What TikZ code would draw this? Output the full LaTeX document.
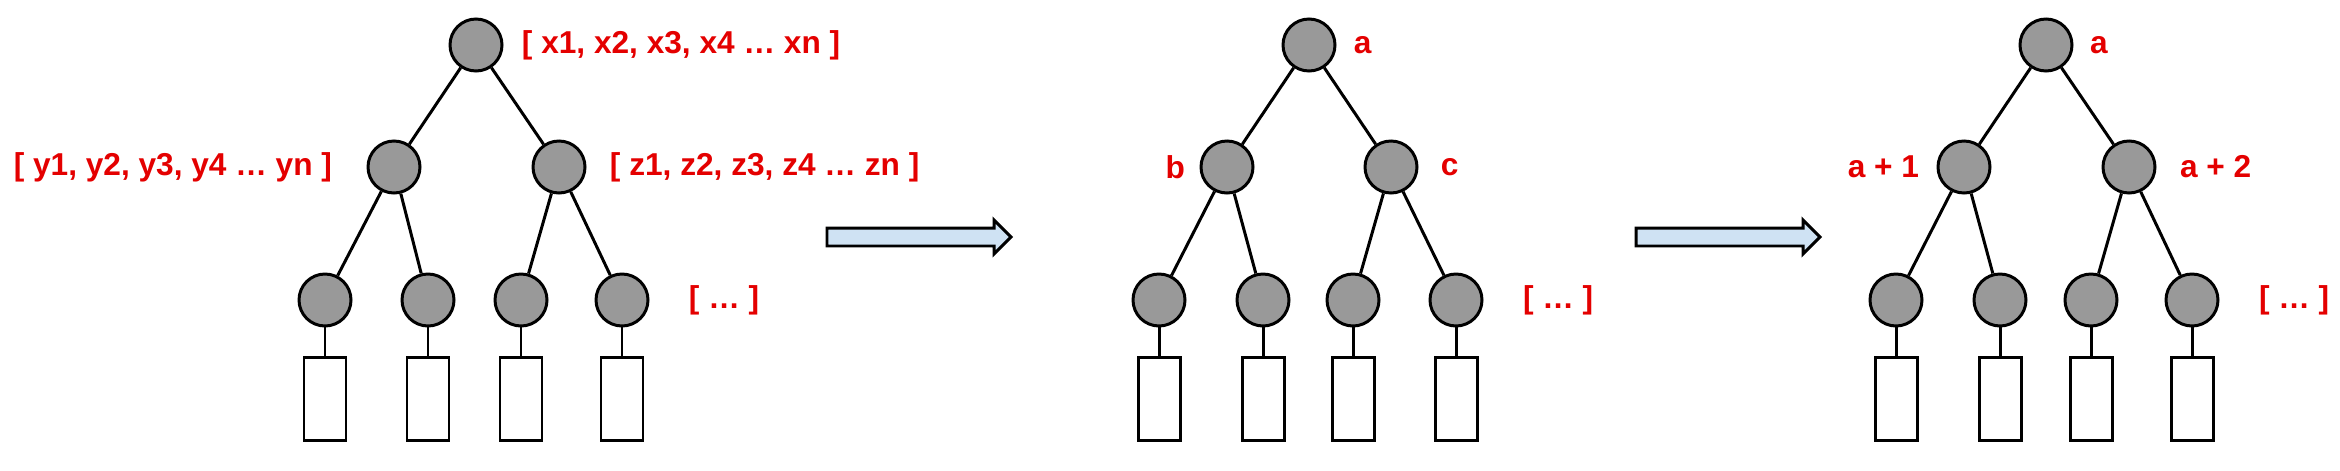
\documentclass[tikz,border=0pt]{standalone}
\usepackage{fontspec}
\setmainfont{Liberation Sans}
\usepackage{xcolor}
\usepackage{tikz}
\usetikzlibrary{shapes,arrows,positioning,calc}

\definecolor{nodegray}{RGB}{153,153,153}
\definecolor{labelred}{RGB}{228,0,0}
\definecolor{arrowblue}{RGB}{207,226,243}

\begin{document}
\begin{tikzpicture}[
    line width=0.85pt,
    vert/.style={circle, draw, fill=nodegray, minimum size=0.52cm, inner sep=0},
    leafbox/.style={rectangle, draw, fill=white, minimum width=0.42cm, minimum height=0.83cm, inner sep=0},
    lbl/.style={text=labelred, font=\bfseries\fontsize{9}{11}\selectfont, inner sep=0},
    bigarrow/.style={single arrow, draw, fill=arrowblue, inner xsep=0, inner ysep=0.075cm,
        single arrow head extend=0.08cm, minimum height=1.84cm}
]
    \useasboundingbox (0,0) rectangle (23.4,4.7);

    % Tree 1: lists of values
    \begin{scope}[xshift=4.76cm]
        \node[vert] (t1root) at (0,4.25) {};
        \node[vert] (t1left) at (-0.82,3.03) {};
        \node[vert] (t1right) at (0.83,3.03) {};
        \node[vert] (t1leafa) at (-1.51,1.70) {};
        \node[vert] (t1leafb) at (-0.48,1.70) {};
        \node[vert] (t1leafc) at (0.45,1.70) {};
        \node[vert] (t1leafd) at (1.46,1.70) {};
        \node[leafbox] (t1boxa) at (-1.51,0.71) {};
        \node[leafbox] (t1boxb) at (-0.48,0.71) {};
        \node[leafbox] (t1boxc) at (0.45,0.71) {};
        \node[leafbox] (t1boxd) at (1.46,0.71) {};
        \draw (t1root) -- (t1left) (t1root) -- (t1right);
        \draw (t1left) -- (t1leafa) (t1left) -- (t1leafb);
        \draw (t1right) -- (t1leafc) (t1right) -- (t1leafd);
        \draw (t1leafa) -- (t1boxa) (t1leafb) -- (t1boxb);
        \draw (t1leafc) -- (t1boxc) (t1leafd) -- (t1boxd);

        \node[lbl, right=0.17 of t1root] (t1xlist) {[ x1, x2, x3, x4 … xn ]};
        \node[lbl, left=0.33 of t1left] (t1ylist) {[ y1, y2, y3, y4 … yn ]};
        \node[lbl, right=0.22 of t1right] (t1zlist) {[ z1, z2, z3, z4 … zn ]};
        \node[lbl, right=0.38 of t1leafd] (t1more) {[ … ]};
    \end{scope}

    \node[bigarrow] (arr1) at (9.145,2.33) {};

    % Tree 2: one value per node
    \begin{scope}[xshift=13.09cm]
        \node[vert] (t2root) at (0,4.25) {};
        \node[vert] (t2left) at (-0.82,3.03) {};
        \node[vert] (t2right) at (0.82,3.03) {};
        \node[vert] (t2leafa) at (-1.50,1.70) {};
        \node[vert] (t2leafb) at (-0.46,1.70) {};
        \node[vert] (t2leafc) at (0.44,1.70) {};
        \node[vert] (t2leafd) at (1.47,1.70) {};
        \node[leafbox] (t2boxa) at (-1.50,0.71) {};
        \node[leafbox] (t2boxb) at (-0.46,0.71) {};
        \node[leafbox] (t2boxc) at (0.44,0.71) {};
        \node[leafbox] (t2boxd) at (1.47,0.71) {};
        \draw (t2root) -- (t2left) (t2root) -- (t2right);
        \draw (t2left) -- (t2leafa) (t2left) -- (t2leafb);
        \draw (t2right) -- (t2leafc) (t2right) -- (t2leafd);
        \draw (t2leafa) -- (t2boxa) (t2leafb) -- (t2boxb);
        \draw (t2leafc) -- (t2boxc) (t2leafd) -- (t2boxd);

        \node[lbl, right=0.16 of t2root] (t2a) {a};
        \node[lbl, left=0.13 of t2left] (t2b) {b};
        \node[lbl, right=0.21 of t2right] (t2c) {c};
        \node[lbl, right=0.38 of t2leafd] (t2more) {[ … ]};
    \end{scope}

    \node[bigarrow] (arr2) at (17.235,2.33) {};

    % Tree 3: values a, a + 1, a + 2
    \begin{scope}[xshift=20.46cm]
        \node[vert] (t3root) at (0,4.25) {};
        \node[vert] (t3left) at (-0.82,3.03) {};
        \node[vert] (t3right) at (0.83,3.03) {};
        \node[vert] (t3leafa) at (-1.50,1.70) {};
        \node[vert] (t3leafb) at (-0.46,1.70) {};
        \node[vert] (t3leafc) at (0.45,1.70) {};
        \node[vert] (t3leafd) at (1.46,1.70) {};
        \node[leafbox] (t3boxa) at (-1.50,0.71) {};
        \node[leafbox] (t3boxb) at (-0.46,0.71) {};
        \node[leafbox] (t3boxc) at (0.45,0.71) {};
        \node[leafbox] (t3boxd) at (1.46,0.71) {};
        \draw (t3root) -- (t3left) (t3root) -- (t3right);
        \draw (t3left) -- (t3leafa) (t3left) -- (t3leafb);
        \draw (t3right) -- (t3leafc) (t3right) -- (t3leafd);
        \draw (t3leafa) -- (t3boxa) (t3leafb) -- (t3boxb);
        \draw (t3leafc) -- (t3boxc) (t3leafd) -- (t3boxd);

        \node[lbl, right=0.15 of t3root] (t3a) {a};
        \node[lbl, left=0.16 of t3left] (t3aone) {a + 1};
        \node[lbl, right=0.22 of t3right] (t3atwo) {a + 2};
        \node[lbl, right=0.38 of t3leafd] (t3more) {[ … ]};
    \end{scope}
\end{tikzpicture}
\end{document}
